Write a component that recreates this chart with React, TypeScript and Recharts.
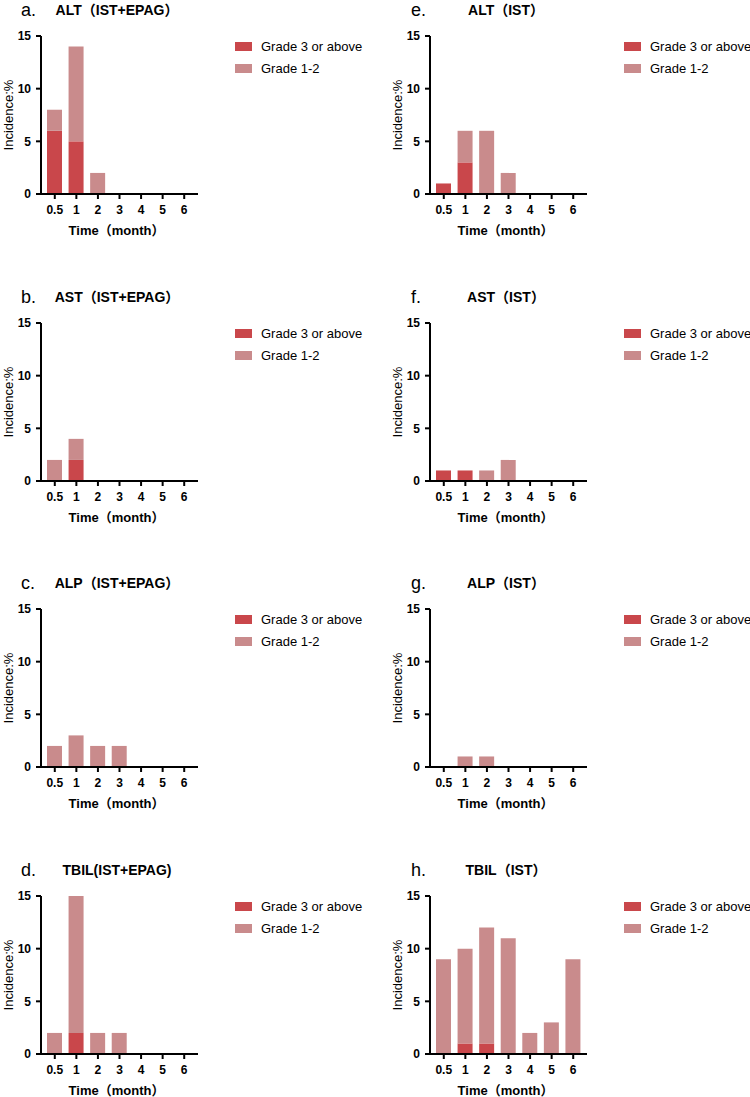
import { BarChart, Bar, XAxis, YAxis, Legend } from 'recharts'

const months = ['0.5', '1', '2', '3', '4', '5', '6']
const yTicks = [0, 5, 10, 15]

// values per month, segment heights (%)
const altEpagG3 = [6, 5, 0, 0, 0, 0, 0]
const altEpagG12 = [2, 9, 2, 0, 0, 0, 0]
const astEpagG3 = [0, 2, 0, 0, 0, 0, 0]
const astEpagG12 = [2, 2, 0, 0, 0, 0, 0]
const alpEpagG3 = [0, 0, 0, 0, 0, 0, 0]
const alpEpagG12 = [2, 3, 2, 2, 0, 0, 0]
const tbilEpagG3 = [0, 2, 0, 0, 0, 0, 0]
const tbilEpagG12 = [2, 13, 2, 2, 0, 0, 0]

const altIstG3 = [1, 3, 0, 0, 0, 0, 0]
const altIstG12 = [0, 3, 6, 2, 0, 0, 0]
const astIstG3 = [1, 1, 0, 0, 0, 0, 0]
const astIstG12 = [0, 0, 1, 2, 0, 0, 0]
const alpIstG3 = [0, 0, 0, 0, 0, 0, 0]
const alpIstG12 = [0, 1, 1, 0, 0, 0, 0]
const tbilIstG3 = [0, 1, 1, 0, 0, 0, 0]
const tbilIstG12 = [9, 9, 11, 11, 2, 3, 9]

const DARK = '#c9474b'
const LIGHT = '#c98b8c'
const FONT = '"Liberation Sans", Arial, "Noto Sans CJK SC", sans-serif'

const panels = [
  { letter: 'a.', title: 'ALT（IST+EPAG）', g3: altEpagG3, g12: altEpagG12, col: 0, row: 0 },
  { letter: 'b.', title: 'AST（IST+EPAG）', g3: astEpagG3, g12: astEpagG12, col: 0, row: 1 },
  { letter: 'c.', title: 'ALP（IST+EPAG）', g3: alpEpagG3, g12: alpEpagG12, col: 0, row: 2 },
  { letter: 'd.', title: 'TBIL(IST+EPAG)', g3: tbilEpagG3, g12: tbilEpagG12, col: 0, row: 3 },
  { letter: 'e.', title: 'ALT（IST）', g3: altIstG3, g12: altIstG12, col: 1, row: 0 },
  { letter: 'f.', title: 'AST（IST）', g3: astIstG3, g12: astIstG12, col: 1, row: 1 },
  { letter: 'g.', title: 'ALP（IST）', g3: alpIstG3, g12: alpIstG12, col: 1, row: 2 },
  { letter: 'h.', title: 'TBIL（IST）', g3: tbilIstG3, g12: tbilIstG12, col: 1, row: 3 }
]

const rowTops = [0, 287, 573, 860]

function LegendBox() {
  const items = [
    { label: 'Grade 3 or above', color: DARK },
    { label: 'Grade 1-2', color: LIGHT }
  ]
  return (
    <div>
      {items.map((it) => (
        <div key={it.label} style={{ display: 'flex', alignItems: 'center', height: 22 }}>
          <span style={{ width: 17, height: 9, background: it.color, display: 'inline-block' }} />
          <span style={{ marginLeft: 9, fontSize: 13, color: '#000', whiteSpace: 'nowrap' }}>{it.label}</span>
        </div>
      ))}
    </div>
  )
}

function Panel({ p }: { p: (typeof panels)[number] }) {
  const data = months.map((m, i) => ({ month: m, g3: p.g3[i], g12: p.g12[i] }))
  const shift = p.col === 1 ? 14 : 0
  return (
    <div style={{ position: 'absolute', left: p.col * 375, top: rowTops[p.row] }}>
      <BarChart
        width={375}
        height={245}
        data={data}
        margin={{ top: 36, left: shift, right: 177 - shift, bottom: 10 }}
      >
        <XAxis
          dataKey="month"
          padding={{ left: 3, right: 3 }}
          axisLine={{ stroke: '#000', strokeWidth: 2 }}
          tickLine={{ stroke: '#000', strokeWidth: 2 }}
          tickSize={5}
          tickMargin={6}
          tick={{ fill: '#000', fontSize: 12, fontWeight: 'bold' }}
          height={41}
          label={{
            value: 'Time（month）',
            position: 'insideBottom',
            offset: 0,
            dx: -3,
            style: { fill: '#000', fontSize: 13, fontWeight: 'bold' }
          }}
        />
        <YAxis
          width={41}
          domain={[0, 15]}
          ticks={yTicks}
          interval={0}
          axisLine={{ stroke: '#000', strokeWidth: 2 }}
          tickLine={{ stroke: '#000', strokeWidth: 2 }}
          tickSize={5}
          tickMargin={5}
          tick={{ fill: '#000', fontSize: 12, fontWeight: 'bold' }}
          label={{
            value: 'Incidence:%',
            angle: -90,
            position: 'insideLeft',
            offset: 8,
            style: { fill: '#000', fontSize: 13, textAnchor: 'middle' }
          }}
        />
        <Legend
          layout="vertical"
          align="center"
          verticalAlign="middle"
          wrapperStyle={{ left: 235 + shift, top: 35.5, width: 140 }}
          content={() => <LegendBox />}
        />
        <Bar dataKey="g3" stackId="s" fill={DARK} barSize={15} isAnimationActive={false} />
        <Bar dataKey="g12" stackId="s" fill={LIGHT} barSize={15} isAnimationActive={false} />
      </BarChart>
      <svg
        width={375}
        height={30}
        style={{ position: 'absolute', left: 0, top: 0, pointerEvents: 'none', overflow: 'visible' }}
      >
        <text x={21 + (p.col === 1 ? 15 : 0)} y={16} fontSize={18} fill="#000" fontFamily={FONT}>
          {p.letter}
        </text>
        <text x={117 + shift} y={15} fontSize={14} fontWeight="bold" textAnchor="middle" fill="#000" fontFamily={FONT}>
          {p.title}
        </text>
      </svg>
    </div>
  )
}

export default function App() {
  return (
    <div
      style={{
        position: 'absolute',
        left: 0,
        top: 0,
        width: 750,
        height: 1097,
        overflow: 'hidden',
        background: '#fff',
        fontFamily: FONT
      }}
    >
      {panels.map((p) => (
        <Panel key={p.letter} p={p} />
      ))}
    </div>
  )
}
